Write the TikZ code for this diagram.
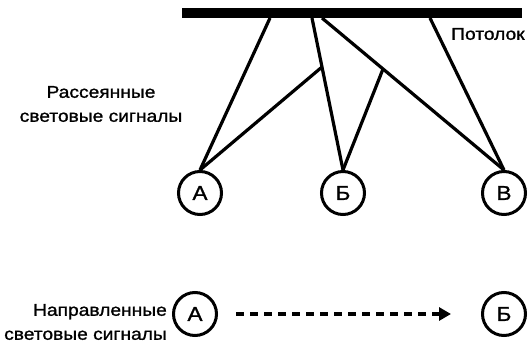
\documentclass[tikz,border=0pt]{standalone}
\usepackage{fontspec}
\setmainfont{Liberation Sans}[FakeStretch=1.13,FakeBold=1.2]
\usetikzlibrary{arrows.meta}
\begin{document}
\begin{tikzpicture}[x=1pt,y=-1pt,
  lamp/.style={circle,draw,line width=3pt,minimum size=43pt,inner sep=0pt,font=\fontsize{20}{20}\selectfont},
  ray/.style={line width=3.2pt},
  lbl/.style={font=\fontsize{17}{24}\selectfont,inner sep=0pt}]
\useasboundingbox (0,0) rectangle (531,343);
% ceiling
\fill (182,8) rectangle (522,18);
\coordinate (c1) at (270,18);
\coordinate (c2) at (312,18);
\coordinate (c3) at (322,18);
\coordinate (c4) at (430,18);
\coordinate (j1) at (322,67);
\coordinate (j2) at (383,69);
% lamps
\node[lamp] (A1) at (200,193) {A};
\node[lamp] (B1) at (343,193) {Б};
\node[lamp] (V1) at (504,193) {В};
\node[lamp] (A2) at (195,314) {A};
\node[lamp] (B2) at (504,314) {Б};
% rays
\draw[ray] (c1) -- (A1.north);
\draw[ray] (c2) -- (j1) -- (B1.north);
\draw[ray] (j1) -- (A1.north);
\draw[ray] (c3) -- (V1.north);
\draw[ray] (j2) -- (B1.north);
\draw[ray] (c4) -- (V1.north);
% direct signal
\draw[line width=3.2pt,dash pattern=on 8pt off 6pt,-{Triangle[length=12pt,width=13pt]}] ([xshift=18pt]A2.east) -- ([xshift=-30pt]B2.west);
% labels
\node[lbl,anchor=west] (ceil) at (451,34) {Потолок};
\node[lbl,align=center] (scat) at (101,104) {Рассеянные\\световые сигналы};
\node[lbl,align=right,anchor=east] (dir) at (167,322) {Направленные\\световые сигналы};
\end{tikzpicture}
\end{document}
